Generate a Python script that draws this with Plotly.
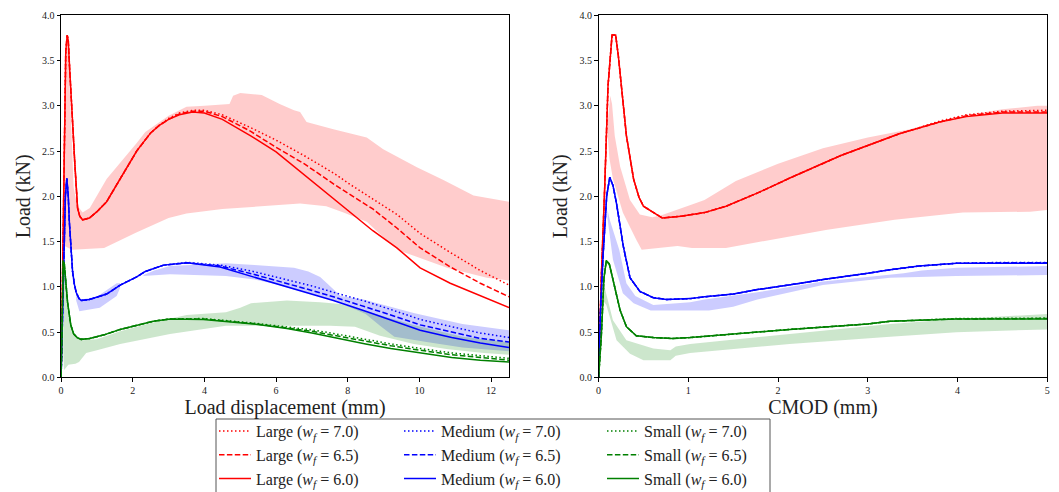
import plotly.graph_objects as go

# ---------------- Left panel: load vs load displacement ----------------
large_x = [0, 0.03, 0.07, 0.1, 0.13, 0.17, 0.2, 0.24, 0.28, 0.33, 0.38, 0.42, 0.46, 0.52, 0.6, 0.79, 1.0,
           1.27, 1.7, 2.11, 2.5, 2.73, 3.0, 3.3, 3.67, 4.0, 4.5, 5.28, 6.0, 6.78, 7.63, 8.07, 8.7, 9.37,
           10.02, 10.86, 11.7, 12.5]
large_w60 = [0, 0.9, 2.1, 3.0, 3.6, 3.78, 3.72, 3.4, 3.05, 2.75, 2.38, 2.08, 1.87, 1.78, 1.74, 1.76, 1.83,
             1.94, 2.22, 2.5, 2.7, 2.78, 2.85, 2.9, 2.93, 2.92, 2.85, 2.67, 2.49, 2.24, 1.96, 1.82, 1.62,
             1.43, 1.21, 1.04, 0.9, 0.77]
large_w65 = [0, 0.9, 2.1, 3.0, 3.6, 3.78, 3.72, 3.4, 3.05, 2.75, 2.38, 2.08, 1.87, 1.78, 1.74, 1.76, 1.83,
             1.94, 2.22, 2.5, 2.7, 2.78, 2.85, 2.91, 2.94, 2.94, 2.88, 2.72, 2.54, 2.36, 2.13, 2.02, 1.86,
             1.65, 1.43, 1.22, 1.04, 0.89]
large_w70 = [0, 0.9, 2.1, 3.0, 3.6, 3.78, 3.72, 3.4, 3.05, 2.75, 2.38, 2.08, 1.87, 1.78, 1.74, 1.76, 1.83,
             1.94, 2.22, 2.5, 2.7, 2.78, 2.86, 2.92, 2.95, 2.95, 2.9, 2.76, 2.62, 2.45, 2.25, 2.13, 1.97,
             1.8, 1.59, 1.38, 1.18, 1.02]

medium_x = [0, 0.04, 0.08, 0.12, 0.16, 0.2, 0.23, 0.27, 0.32, 0.37, 0.42, 0.5, 0.56, 0.79, 1.27, 1.65, 2.11,
            2.35, 2.86, 3.51, 4.44, 5.36, 6.3, 7.0, 7.6, 8.5, 9.2, 10.02, 10.9, 11.7, 12.5]
medium_w60 = [0, 0.6, 1.4, 2.0, 2.2, 2.0, 1.72, 1.45, 1.17, 1.03, 0.94, 0.87, 0.85, 0.86, 0.92, 1.02, 1.11,
              1.17, 1.24, 1.265, 1.22, 1.11, 1.0, 0.92, 0.85, 0.73, 0.63, 0.52, 0.44, 0.38, 0.33]
medium_w65 = [0, 0.6, 1.4, 2.0, 2.2, 2.0, 1.72, 1.45, 1.17, 1.03, 0.94, 0.87, 0.85, 0.86, 0.92, 1.02, 1.11,
              1.17, 1.24, 1.265, 1.23, 1.14, 1.04, 0.96, 0.89, 0.78, 0.69, 0.58, 0.5, 0.43, 0.39]
medium_w70 = [0, 0.6, 1.4, 2.0, 2.2, 2.0, 1.72, 1.45, 1.17, 1.03, 0.94, 0.87, 0.85, 0.86, 0.92, 1.02, 1.11,
              1.17, 1.24, 1.27, 1.24, 1.17, 1.08, 1.01, 0.94, 0.84, 0.75, 0.64, 0.56, 0.49, 0.44]

small_x = [0, 0.03, 0.06, 0.09, 0.12, 0.18, 0.27, 0.35, 0.45, 0.56, 0.8, 1.2, 1.65, 2.2, 2.57, 3.04, 3.97,
           5.36, 6.3, 7.0, 7.6, 8.5, 9.2, 10.02, 10.9, 11.7, 12.5]
small_w60 = [0, 0.8, 1.29, 1.25, 1.1, 0.83, 0.58, 0.48, 0.44, 0.42, 0.43, 0.47, 0.53, 0.58, 0.62, 0.645,
             0.64, 0.59, 0.54, 0.49, 0.44, 0.37, 0.32, 0.27, 0.22, 0.19, 0.17]
small_w65 = [0, 0.8, 1.29, 1.25, 1.1, 0.83, 0.58, 0.48, 0.44, 0.42, 0.43, 0.47, 0.53, 0.58, 0.62, 0.645,
             0.645, 0.595, 0.55, 0.51, 0.465, 0.4, 0.35, 0.3, 0.25, 0.22, 0.19]
small_w70 = [0, 0.8, 1.29, 1.25, 1.1, 0.83, 0.58, 0.48, 0.44, 0.42, 0.43, 0.47, 0.53, 0.58, 0.62, 0.645,
             0.65, 0.6, 0.56, 0.525, 0.485, 0.42, 0.37, 0.32, 0.27, 0.24, 0.21]

# experimental envelopes (left panel)
large_band_hi_x = [0.06, 0.1, 0.13, 0.16, 0.2, 0.25, 0.3, 0.35, 0.45, 0.6, 0.8, 1.27, 2.11, 2.35, 3.0, 3.5,
                   4.0, 4.7, 4.8, 5.0, 5.6, 6.1, 6.5, 6.67, 6.85, 7.6, 8.53, 8.99, 9.93, 10.67, 11.51, 12.5]
large_band_hi_y = [1.8, 2.8, 3.4, 3.72, 3.62, 3.1, 2.5, 2.1, 1.9, 1.82, 1.87, 2.19, 2.59, 2.71, 2.89, 2.99,
                   3.0, 3.02, 3.11, 3.14, 3.12, 3.02, 2.95, 2.93, 2.82, 2.74, 2.65, 2.52, 2.32, 2.18, 2.01, 1.94]
large_band_lo_x = [0.06, 0.1, 0.3, 1.2, 2.1, 3.0, 3.5, 4.5, 5.5, 6.67, 7.4, 7.88, 8.53, 9.18, 9.45, 10.0,
                   10.77, 11.88, 12.5]
large_band_lo_y = [1.6, 1.45, 1.41, 1.43, 1.6, 1.76, 1.81, 1.86, 1.89, 1.92, 1.89, 1.82, 1.72, 1.48, 1.4,
                   1.32, 1.21, 1.1, 1.07]

medium_band1_hi_x = [0.42, 0.5, 0.56, 1.0, 1.55, 1.65]
medium_band1_hi_y = [0.92, 0.88, 0.86, 0.89, 1.04, 1.04]
medium_band1_lo_x = [0.42, 0.51, 1.08, 1.55, 1.65]
medium_band1_lo_y = [0.85, 0.73, 0.77, 0.9, 0.99]

medium_band2_hi_x = [2.3, 2.6, 3.04, 3.5, 4.0, 4.6, 5.4, 6.5, 6.9, 7.23, 7.42, 7.8, 8.44, 9.84, 11.2, 12.5]
medium_band2_hi_y = [1.13, 1.18, 1.23, 1.24, 1.25, 1.26, 1.24, 1.21, 1.17, 1.11, 1.04, 0.9, 0.86, 0.71,
                     0.59, 0.52]
medium_band2_lo_x = [2.3, 3.04, 4.6, 5.4, 6.0, 6.5, 7.0, 7.5, 8.1, 8.5, 8.9, 9.3, 10.2, 11.2, 12.5]
medium_band2_lo_y = [1.12, 1.14, 1.12, 1.08, 1.03, 0.97, 0.92, 0.86, 0.77, 0.7, 0.57, 0.45, 0.39, 0.33, 0.29]

small_band_hi_x = [0.06, 0.1, 0.2, 0.3, 0.45, 0.6, 1.0, 1.65, 2.5, 3.5, 4.6, 5.0, 5.3, 6.3, 7.23, 7.8, 8.44,
                   9.84, 11.2, 12.5]
small_band_hi_y = [0.9, 1.2, 0.8, 0.55, 0.43, 0.41, 0.42, 0.51, 0.6, 0.69, 0.72, 0.77, 0.82, 0.85, 0.83,
                   0.81, 0.74, 0.58, 0.45, 0.39]
small_band_lo_x = [0.06, 0.08, 0.2, 0.4, 0.5, 0.6, 0.7, 1.0, 1.65, 3.04, 4.6, 6.0, 7.0, 7.5, 8.2, 8.9, 9.84,
                   10.8, 11.8, 12.5]
small_band_lo_y = [0.3, 0.08, 0.14, 0.15, 0.17, 0.22, 0.27, 0.3, 0.37, 0.48, 0.57, 0.57, 0.57, 0.57, 0.56,
                   0.46, 0.37, 0.31, 0.27, 0.25]

# ---------------- Right panel: load vs CMOD ----------------
large_cmod_x = [0, 0.01, 0.03, 0.068, 0.105, 0.15, 0.19, 0.22, 0.255, 0.31, 0.39, 0.45, 0.5, 0.61, 0.71,
                0.92, 1.18, 1.42, 1.78, 2.15, 2.7, 3.35, 3.8, 4.1, 4.5, 5.0]
large_cmod_w60 = [0, 0.5, 1.1, 2.1, 3.22, 3.78, 3.78, 3.55, 3.22, 2.67, 2.19, 1.99, 1.89, 1.82, 1.76, 1.78,
                  1.82, 1.89, 2.04, 2.21, 2.45, 2.69, 2.82, 2.88, 2.92, 2.92]
large_cmod_w65 = [0, 0.5, 1.1, 2.1, 3.22, 3.78, 3.78, 3.55, 3.22, 2.67, 2.19, 1.99, 1.89, 1.82, 1.76, 1.78,
                  1.82, 1.89, 2.04, 2.21, 2.45, 2.69, 2.82, 2.89, 2.93, 2.93]
large_cmod_w70 = [0, 0.5, 1.1, 2.1, 3.22, 3.78, 3.78, 3.55, 3.22, 2.67, 2.19, 1.99, 1.89, 1.82, 1.76, 1.78,
                  1.82, 1.89, 2.04, 2.21, 2.45, 2.69, 2.83, 2.9, 2.94, 2.95]

medium_cmod_x = [0, 0.02, 0.05, 0.09, 0.124, 0.16, 0.2, 0.275, 0.35, 0.46, 0.61, 0.76, 1.02, 1.18, 1.5,
                 1.77, 2.25, 2.5, 3.0, 3.25, 3.57, 3.99, 4.5, 5.0]
medium_cmod_w60 = [0, 0.7, 1.35, 2.0, 2.21, 2.12, 1.92, 1.45, 1.1, 0.95, 0.88, 0.86, 0.87, 0.89, 0.92, 0.97,
                   1.04, 1.08, 1.15, 1.19, 1.23, 1.26, 1.26, 1.26]
medium_cmod_w65 = [0, 0.7, 1.35, 2.0, 2.21, 2.12, 1.92, 1.45, 1.1, 0.95, 0.88, 0.86, 0.87, 0.89, 0.92, 0.97,
                   1.04, 1.08, 1.15, 1.19, 1.23, 1.26, 1.265, 1.265]
medium_cmod_w70 = [0, 0.7, 1.35, 2.0, 2.21, 2.12, 1.92, 1.45, 1.1, 0.95, 0.88, 0.86, 0.87, 0.89, 0.92, 0.97,
                   1.04, 1.08, 1.15, 1.19, 1.23, 1.26, 1.27, 1.27]

small_cmod_x = [0, 0.03, 0.06, 0.086, 0.12, 0.16, 0.24, 0.31, 0.42, 0.61, 0.82, 1.02, 1.5, 2.13, 3.0, 3.25,
                3.99, 5.0]
small_cmod_w60 = [0, 0.45, 1.1, 1.29, 1.25, 1.08, 0.74, 0.56, 0.46, 0.44, 0.43, 0.44, 0.48, 0.53, 0.59,
                  0.62, 0.645, 0.645]
small_cmod_w65 = [0, 0.45, 1.1, 1.29, 1.25, 1.08, 0.74, 0.56, 0.46, 0.44, 0.43, 0.44, 0.48, 0.53, 0.59,
                  0.62, 0.645, 0.65]
small_cmod_w70 = [0, 0.45, 1.1, 1.29, 1.25, 1.08, 0.74, 0.56, 0.46, 0.44, 0.43, 0.44, 0.48, 0.53, 0.59,
                  0.62, 0.65, 0.655]

large_cband_hi_x = [0.1, 0.13, 0.15, 0.18, 0.24, 0.35, 0.46, 0.6, 0.7, 0.88, 1.04, 1.18, 1.53, 2.0, 2.5,
                    3.0, 3.57, 4.13, 4.5, 4.89, 5.0]
large_cband_hi_y = [2.8, 3.11, 3.02, 2.67, 2.33, 1.96, 1.8, 1.77, 1.79, 1.85, 1.91, 1.96, 2.17, 2.36, 2.53,
                    2.65, 2.76, 2.9, 2.96, 3.0, 3.0]
large_cband_lo_x = [0.1, 0.12, 0.16, 0.27, 0.42, 0.48, 0.88, 1.04, 1.42, 1.8, 2.55, 3.3, 4.06, 4.81, 5.0]
large_cband_lo_y = [2.7, 2.42, 2.19, 1.82, 1.52, 1.41, 1.45, 1.43, 1.43, 1.5, 1.63, 1.74, 1.82, 1.83, 1.85]

medium_cband_hi_x = [0.1, 0.124, 0.23, 0.31, 0.41, 0.61, 1.02, 1.18, 1.77, 2.5, 3.4, 3.6, 3.99, 5.0]
medium_cband_hi_y = [1.85, 1.74, 1.41, 1.04, 0.9, 0.8, 0.83, 0.86, 0.94, 1.06, 1.15, 1.18, 1.21, 1.23]
medium_cband_lo_x = [0.1, 0.16, 0.27, 0.39, 0.58, 1.23, 1.5, 1.77, 2.5, 3.25, 3.99, 5.0]
medium_cband_lo_y = [1.75, 1.3, 0.93, 0.82, 0.74, 0.74, 0.78, 0.86, 1.02, 1.1, 1.12, 1.13]

small_cband_hi_x = [0.05, 0.068, 0.16, 0.31, 0.61, 0.8, 0.86, 1.02, 2.13, 3.25, 3.99, 5.0]
small_cband_hi_y = [0.9, 0.99, 0.63, 0.41, 0.32, 0.3, 0.34, 0.37, 0.48, 0.59, 0.645, 0.7]
small_cband_lo_x = [0.05, 0.086, 0.2, 0.35, 0.5, 0.8, 0.86, 1.02, 2.13, 3.25, 3.99, 5.0]
small_cband_lo_y = [0.85, 0.8, 0.41, 0.26, 0.19, 0.19, 0.24, 0.27, 0.37, 0.45, 0.5, 0.53]

y_ticks = [0.0, 0.5, 1.0, 1.5, 2.0, 2.5, 3.0, 3.5, 4.0]
left_x_ticks = [0, 2, 4, 6, 8, 10, 12]
right_x_ticks = [0, 1, 2, 3, 4, 5]

RED, BLUE, GREEN = "#ff0000", "#0000ff", "#008000"
BAND = {"red": "rgba(255,0,0,0.2)", "blue": "rgba(0,0,255,0.2)", "green": "rgba(0,128,0,0.2)"}
FONT = "Liberation Serif"

fig = go.Figure()


def band(hx, hy, lx, ly, color, xa, ya):
    fig.add_trace(go.Scatter(x=list(hx) + list(lx)[::-1], y=list(hy) + list(ly)[::-1],
                             fill="toself", fillcolor=color, mode="lines", line=dict(width=0),
                             hoverinfo="skip", showlegend=False, xaxis=xa, yaxis=ya))


# bands left
band(large_band_hi_x, large_band_hi_y, large_band_lo_x, large_band_lo_y, BAND["red"], "x", "y")
band(medium_band1_hi_x, medium_band1_hi_y, medium_band1_lo_x, medium_band1_lo_y, BAND["blue"], "x", "y")
band(medium_band2_hi_x, medium_band2_hi_y, medium_band2_lo_x, medium_band2_lo_y, BAND["blue"], "x", "y")
band(small_band_hi_x, small_band_hi_y, small_band_lo_x, small_band_lo_y, BAND["green"], "x", "y")
# bands right
band(large_cband_hi_x, large_cband_hi_y, large_cband_lo_x, large_cband_lo_y, BAND["red"], "x2", "y2")
band(medium_cband_hi_x, medium_cband_hi_y, medium_cband_lo_x, medium_cband_lo_y, BAND["blue"], "x2", "y2")
band(small_cband_hi_x, small_cband_hi_y, small_cband_lo_x, small_cband_lo_y, BAND["green"], "x2", "y2")

DOT = "1.5px,2.5px"
DASH = "5.5px,2.4px"

series = [
    ("Large", RED, "legend", large_x, [large_w70, large_w65, large_w60],
     large_cmod_x, [large_cmod_w70, large_cmod_w65, large_cmod_w60]),
    ("Medium", BLUE, "legend2", medium_x, [medium_w70, medium_w65, medium_w60],
     medium_cmod_x, [medium_cmod_w70, medium_cmod_w65, medium_cmod_w60]),
    ("Small", GREEN, "legend3", small_x, [small_w70, small_w65, small_w60],
     small_cmod_x, [small_cmod_w70, small_cmod_w65, small_cmod_w60]),
]
wf_labels = ["7.0", "6.5", "6.0"]
dashes = [DOT, DASH, "solid"]

for name, color, leg, lx, lys, cx, cys in series:
    for i in range(3):
        label = f"{name} (<i>w</i><sub><i>f</i></sub> = {wf_labels[i]})"
        fig.add_trace(go.Scatter(x=lx, y=lys[i], mode="lines", name=label, legend=leg,
                                 line=dict(color=color, width=1.5, dash=dashes[i]),
                                 xaxis="x", yaxis="y", legendgroup=label))
        fig.add_trace(go.Scatter(x=cx, y=cys[i], mode="lines", name=label, showlegend=False,
                                 line=dict(color=color, width=1.5, dash=dashes[i]),
                                 xaxis="x2", yaxis="y2", legendgroup=label))

# the page body adds an 8px offset, so the figure is sized/positioned to compensate
OFF = 8
W, H = 1059 - OFF, 492 - OFF


def px(xp):
    return (xp - OFF) / W


def py(yp):
    return (492 - yp) / H


axis_common = dict(showline=True, mirror=True, linecolor="black", linewidth=1, ticks="outside",
                   ticklen=3.5, tickwidth=0.8, tickcolor="black", showgrid=False, zeroline=False,
                   automargin=False, tickfont=dict(family=FONT, size=10, color="#222"))
ydom = [py(377.4), py(15.2)]

fig.update_layout(
    width=W, height=H, paper_bgcolor="white", plot_bgcolor="white",
    margin=dict(l=0, r=0, t=0, b=0, autoexpand=False),
    font=dict(family=FONT, color="#222"),
    xaxis=dict(domain=[px(61.1), px(509.0)], range=[0, 12.5], tickvals=left_x_ticks,
               title=dict(text="Load displacement (mm)", font=dict(size=20), standoff=2),
               anchor="y", **axis_common),
    yaxis=dict(domain=ydom, range=[0, 4.0], tickvals=y_ticks, tickformat=".1f",
               title=dict(text="Load (kN)", font=dict(size=20), standoff=6),
               anchor="x", **axis_common),
    xaxis2=dict(domain=[px(598.6), px(1047.2)], range=[0, 5], tickvals=right_x_ticks,
                title=dict(text="CMOD (mm)", font=dict(size=20), standoff=2),
                anchor="y2", **axis_common),
    yaxis2=dict(domain=ydom, range=[0, 4.0], tickvals=y_ticks, tickformat=".1f",
                title=dict(text="Load (kN)", font=dict(size=20), standoff=6),
                anchor="x2", **axis_common),
    showlegend=True,
)

leg_common = dict(orientation="v", yanchor="top", xanchor="left", y=py(414),
                  bgcolor="rgba(0,0,0,0)", borderwidth=0, itemwidth=32,
                  font=dict(family=FONT, size=16, color="#222"), tracegroupgap=0)
fig.update_layout(
    legend=dict(x=px(214), **leg_common),
    legend2=dict(x=px(399), **leg_common),
    legend3=dict(x=px(602), **leg_common),
)

fig.add_shape(type="rect", xref="paper", yref="paper", x0=px(216), x1=px(770),
              y0=-0.05, y1=py(419), line=dict(color="#555", width=1), fillcolor="rgba(0,0,0,0)",
              layer="below")

fig.write_html("out.html")
